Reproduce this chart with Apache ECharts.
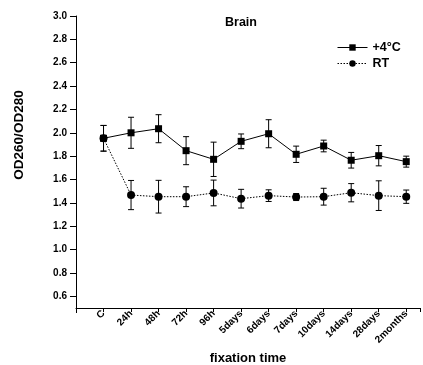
<!DOCTYPE html>
<html><head><meta charset="utf-8">
<script src="https://cdn.jsdelivr.net/npm/echarts@6/dist/echarts.min.js"></script>
<style>html,body{margin:0;padding:0;background:#fff}#c{width:423px;height:365px}</style>
</head><body><div id="c"></div>
<script>
const categories = ['C','24h','48h','72h','96h','5days','6days','7days','10days','14days','28days','2months'];
const cold = [1.953, 2.0, 2.035, 1.847, 1.773, 1.927, 1.992, 1.816, 1.887, 1.765, 1.804, 1.753];
const coldErr = [0.11, 0.133, 0.12, 0.12, 0.147, 0.063, 0.12, 0.07, 0.05, 0.067, 0.087, 0.047];
const rt = [1.953, 1.467, 1.453, 1.453, 1.485, 1.436, 1.462, 1.45, 1.453, 1.487, 1.462, 1.453];
const rtErr = [0.11, 0.125, 0.14, 0.085, 0.11, 0.08, 0.05, 0.03, 0.072, 0.078, 0.127, 0.057];
const yTicks = [0.6,0.8,1.0,1.2,1.4,1.6,1.8,2.0,2.2,2.4,2.6,2.8,3.0];

const FONT = 'Liberation Sans, Arial, sans-serif';
function errData(vals, errs){ return vals.map((v,i)=>[i, v-errs[i], v+errs[i]]); }
function errRender(params, api){
  const x = api.value(0);
  const lo = api.coord([x, api.value(1)]);
  const hi = api.coord([x, api.value(2)]);
  const w = 3;
  const st = {stroke:'#000', lineWidth:1};
  return {type:'group', children:[
    {type:'line', shape:{x1:lo[0],y1:lo[1],x2:hi[0],y2:hi[1]}, style:st},
    {type:'line', shape:{x1:lo[0]-w,y1:lo[1],x2:lo[0]+w,y2:lo[1]}, style:st},
    {type:'line', shape:{x1:hi[0]-w,y1:hi[1],x2:hi[0]+w,y2:hi[1]}, style:st}
  ]};
}
const chart = echarts.init(document.getElementById('c'));
chart.setOption({
  animation:false,
  backgroundColor:'#fff',
  textStyle:{fontFamily:FONT},
  title:{text:'Brain', left:236, top:11, textAlign:'center',
    textStyle:{fontFamily:FONT, fontSize:12.5, fontWeight:'bold', color:'#000'}},
  legend:{
    orient:'vertical', left:332, top:36, itemWidth:30, itemHeight:8, itemGap:3,
    lineStyle:{width:1},
    textStyle:{fontFamily:FONT, fontSize:12.5, fontWeight:'bold', color:'#000'},
    data:['+4°C','RT']
  },
  grid:{left:76, right:3, top:16, bottom:57, containLabel:false, outerBoundsMode:'none'},
  xAxis:{
    type:'value', min:-1, max:11.5, interval:1,
    splitLine:{show:false},
    axisLine:{onZero:false, lineStyle:{color:'#000', width:1}},
    axisTick:{show:true, length:4, lineStyle:{color:'#000'}},
    axisLabel:{rotate:45, fontSize:10, fontWeight:'bold', color:'#000', fontFamily:FONT, margin:4,
      formatter:v=>{const i=Math.round(v); return (i>=0 && i<categories.length && Math.abs(v-i)<1e-6)?categories[i]:'';}},
    name:'fixation time', nameLocation:'middle', nameGap:41,
    nameTextStyle:{fontFamily:FONT, fontSize:13, fontWeight:'bold', color:'#000'}
  },
  yAxis:{
    type:'value', min:0.5, max:3.0,
    splitLine:{show:false},
    axisLine:{show:true, onZero:false, lineStyle:{color:'#000', width:1}},
    axisTick:{show:true, length:6, customValues:yTicks, lineStyle:{color:'#000'}},
    axisLabel:{customValues:yTicks, fontSize:10, fontWeight:'bold', color:'#000', fontFamily:FONT, margin:9,
      formatter:v=>v.toFixed(1)}
  },
  graphic:[
    {type:'text', x:19, y:135, rotation:Math.PI/2,
     style:{text:'OD260/OD280', fontFamily:FONT, fontSize:13.5, fontWeight:'bold', fill:'#000', align:'center', verticalAlign:'middle'}},
    {type:'line', shape:{x1:76.5,y1:308,x2:76.5,y2:313}, style:{stroke:'#000', lineWidth:1}}
  ],
  series:[
    {type:'custom', name:'rtErr', renderItem:errRender, data:errData(rt, rtErr), z:2, silent:true},
    {type:'custom', name:'coldErr', renderItem:errRender, data:errData(cold, coldErr), z:2, silent:true},
    {type:'line', name:'RT', data:rt.map((v,i)=>[i,v]), symbol:'circle', symbolSize:8,
      itemStyle:{color:'#000'}, lineStyle:{color:'#000', width:1, type:[1.5,1.5]}, z:3},
    {type:'line', name:'+4°C', data:cold.map((v,i)=>[i,v]), symbol:'rect', symbolSize:7,
      itemStyle:{color:'#000'}, lineStyle:{color:'#000', width:1}, z:4}
  ]
});
</script></body></html>
